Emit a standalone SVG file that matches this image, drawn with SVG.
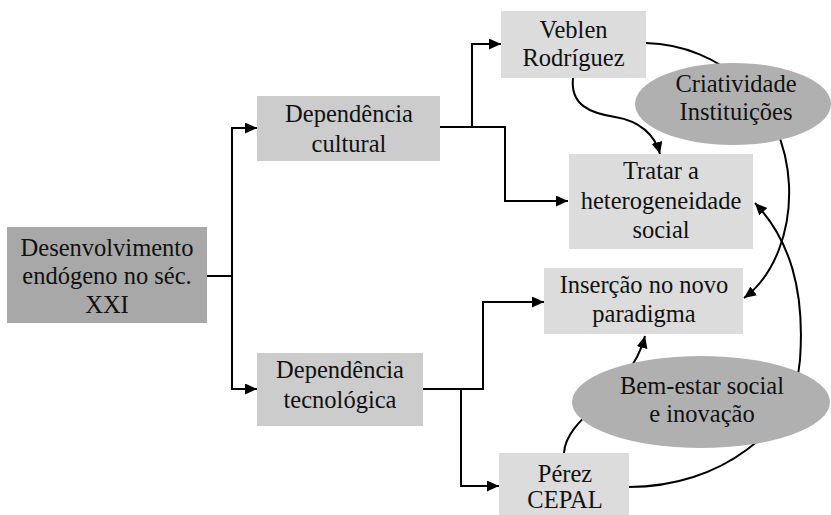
<svg xmlns="http://www.w3.org/2000/svg" width="831" height="515" viewBox="0 0 831 515">
<defs>
<style>
.t{font-family:"Liberation Serif","Times New Roman","DejaVu Serif",serif;font-size:24.5px;fill:#111;text-anchor:middle}
.c{fill:none;stroke:#000;stroke-width:2}
.dark{fill:#a8a8a8}
.mid{fill:#cccccc}
.light{fill:#dcdcdc}
.ell{fill:#b0b0b0}
</style>
<marker id="ah" markerUnits="userSpaceOnUse" markerWidth="13" markerHeight="12" refX="12" refY="5.5" orient="auto">
<path d="M0,0 L12,5.5 L0,11 z" fill="#000"/>
</marker>
</defs>
<rect width="831" height="515" fill="#fff"/>
<g id="connectors">
<path class="c" d="M207,276 H232 V128 H257" marker-end="url(#ah)"/>
<path class="c" d="M232,276 V389 H257" marker-end="url(#ah)"/>
<path class="c" d="M440,127 H472 V44 H501" marker-end="url(#ah)"/>
<path class="c" d="M472,127 H505 V201 H568" marker-end="url(#ah)"/>
<path class="c" d="M423,389 H483 V302 H544" marker-end="url(#ah)"/>
<path class="c" d="M461,389 V486 H499" marker-end="url(#ah)"/>
<path class="c" d="M573,78 C570,105 590,113 615,117 C640,121 655,135 660,154" marker-end="url(#ah)"/>
<path class="c" d="M646,43 C720,45 785,100 789,185 C791,230 775,275 744,298" marker-end="url(#ah)"/>
<path class="c" d="M629,487 C720,487 795,430 800,360 C805,290 790,240 755,203" marker-end="url(#ah)"/>
<path class="c" d="M564,453 C566,415 630,395 645,336" marker-end="url(#ah)"/>
</g>
<g font-family="Liberation Serif, Times New Roman, serif">
<g id="n-desenvolvimento">
<rect class="dark" x="7" y="227" width="200" height="96"/>
<text class="t" x="107" y="256">Desenvolvimento</text>
<text class="t" x="107" y="284">endógeno no séc.</text>
<text class="t" x="107" y="313">XXI</text>
</g>
<g id="n-dep-cultural">
<rect class="mid" x="257" y="96" width="183" height="65"/>
<text class="t" x="349" y="122">Dependência</text>
<text class="t" x="349" y="152">cultural</text>
</g>
<g id="n-dep-tecnologica">
<rect class="mid" x="257" y="353" width="166" height="73"/>
<text class="t" x="340" y="378">Dependência</text>
<text class="t" x="340" y="408">tecnológica</text>
</g>
<g id="n-veblen">
<rect class="light" x="501" y="11" width="145" height="67"/>
<text class="t" x="573.5" y="38">Veblen</text>
<text class="t" x="573.5" y="66">Rodríguez</text>
</g>
<g id="n-tratar">
<rect class="light" x="569" y="154" width="184" height="95"/>
<text class="t" x="661" y="179">Tratar a</text>
<text class="t" x="661" y="209">heterogeneidade</text>
<text class="t" x="661" y="238">social</text>
</g>
<g id="n-insercao">
<rect class="light" x="544" y="268" width="199" height="66"/>
<text class="t" x="644" y="293">Inserção no novo</text>
<text class="t" x="644" y="322">paradigma</text>
</g>
<g id="n-perez">
<rect class="light" x="499" y="453" width="130" height="62"/>
<text class="t" x="565" y="482">Pérez</text>
<text class="t" x="565" y="508">CEPAL</text>
</g>
<g id="n-criatividade">
<ellipse class="ell" cx="733" cy="104" rx="98" ry="41"/>
<text class="t" x="736" y="92">Criatividade</text>
<text class="t" x="736" y="120">Instituições</text>
</g>
<g id="n-bemestar">
<ellipse class="ell" cx="701" cy="402" rx="129" ry="46"/>
<text class="t" x="702" y="394">Bem-estar social</text>
<text class="t" x="702" y="422">e inovação</text>
</g>
</g>
</svg>
